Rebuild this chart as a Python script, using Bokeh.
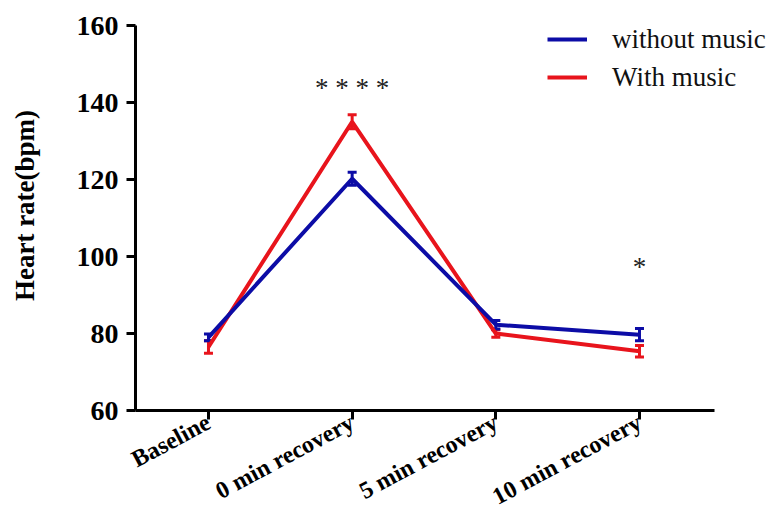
from bokeh.plotting import figure
from bokeh.models import (ColumnDataSource, Range1d, Whisker, TeeHead,
                          Legend, LegendItem, FixedTicker)
from bokeh.core.properties import value
from bokeh.embed import file_html
from bokeh.resources import INLINE

# ---- data ----
conditions = ["Baseline", "0 min recovery", "5 min recovery", "10 min recovery"]
condition_index = [0, 1, 2, 3]
without_music = [79.0, 120.2, 82.3, 79.7]
without_music_err = [0.9, 1.7, 1.1, 1.6]
with_music = [76.5, 135.0, 80.0, 75.4]
with_music_err = [1.6, 1.8, 1.0, 1.5]
sig_label_index = [1, 3]
sig_label_texts = ["* * * *", "*"]
sig_label_y = [143.9, 97.3]
y_ticks = [60, 80, 100, 120, 140, 160]

BLUE = "#0C0CA6"
RED = "#E8141C"
FONT = "Liberation Serif"

p = figure(width=768, height=525, x_range=Range1d(-0.508, 3.898),
           y_range=Range1d(60, 166.5), output_backend="svg", toolbar_location=None,
           min_border_left=135, min_border_right=0, min_border_top=0, min_border_bottom=115)
p.outline_line_color = None
p.grid.visible = False
p.background_fill_color = "white"

src_wo = ColumnDataSource(dict(x=condition_index, y=without_music,
                               lo=[v - e for v, e in zip(without_music, without_music_err)],
                               hi=[v + e for v, e in zip(without_music, without_music_err)]))
src_w = ColumnDataSource(dict(x=condition_index, y=with_music,
                              lo=[v - e for v, e in zip(with_music, with_music_err)],
                              hi=[v + e for v, e in zip(with_music, with_music_err)]))

r_w = p.line("x", "y", source=src_w, line_color=RED, line_width=4)
p.add_layout(Whisker(source=src_w, base="x", lower="lo", upper="hi", line_color=RED, line_width=3,
                     upper_head=TeeHead(size=9, line_color=RED, line_width=3),
                     lower_head=TeeHead(size=9, line_color=RED, line_width=3)))
r_wo = p.line("x", "y", source=src_wo, line_color=BLUE, line_width=4)
p.add_layout(Whisker(source=src_wo, base="x", lower="lo", upper="hi", line_color=BLUE, line_width=3,
                     upper_head=TeeHead(size=9, line_color=BLUE, line_width=3),
                     lower_head=TeeHead(size=9, line_color=BLUE, line_width=3)))

p.text(x=sig_label_index, y=sig_label_y, text=sig_label_texts,
       text_font=value(FONT), text_font_size="27px", text_color="#222222",
       text_align="center", text_baseline="alphabetic")

legend = Legend(items=[LegendItem(label="without music", renderers=[r_wo]),
                       LegendItem(label="With music", renderers=[r_w])],
                location=(412, 314), label_text_font=FONT, label_text_font_size="27px",
                label_text_color="#111111",
                glyph_width=40, glyph_height=38, label_height=38, spacing=0, padding=0,
                margin=0, label_standoff=25, border_line_alpha=0, background_fill_alpha=0)
p.add_layout(legend)

# axes
p.xaxis.ticker = FixedTicker(ticks=condition_index)
p.xaxis.major_label_overrides = {i: c for i, c in zip(condition_index, conditions)}
p.xaxis.bounds = (-0.508, 3.522)
p.yaxis.ticker = FixedTicker(ticks=y_ticks)
p.yaxis.bounds = (60, 160)
p.yaxis.axis_label = "Heart rate(bpm)"
p.yaxis.axis_label_text_font = FONT
p.yaxis.axis_label_text_font_style = "bold"
p.yaxis.axis_label_text_font_size = "27px"
p.yaxis.axis_label_text_color = "black"
p.yaxis.axis_label_standoff = 34
for ax in (p.xaxis, p.yaxis):
    ax.axis_line_width = 3
    ax.axis_line_color = "black"
    ax.major_tick_line_width = 3
    ax.major_tick_line_color = "black"
    ax.major_tick_out = 9
    ax.major_tick_in = 0
    ax.minor_tick_line_color = None
    ax.major_label_text_font = FONT
    ax.major_label_text_font_style = "bold"
    ax.major_label_text_color = "black"
p.yaxis.major_label_text_font_size = "28px"
p.yaxis.major_label_standoff = 8
p.xaxis.major_label_text_font_size = "24px"
p.xaxis.major_label_orientation = 0.49
p.xaxis.major_label_standoff = 1

open("out.html", "w").write(file_html(p, INLINE))
